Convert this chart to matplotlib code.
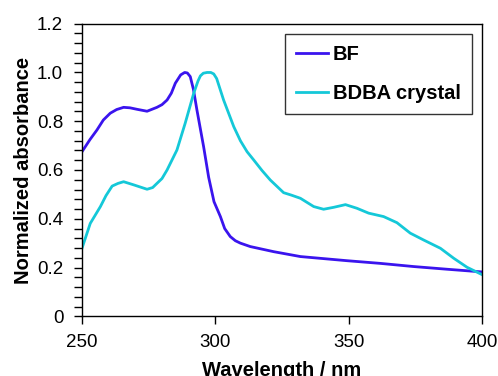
import matplotlib
matplotlib.use("Agg")
import matplotlib.pyplot as plt
from matplotlib.ticker import MultipleLocator

# BF absorbance
bf_nm = [250, 253, 255.6, 258, 260.6, 263, 265.6, 268, 270.6, 274.4, 278.1, 280,
         281.9, 283.5, 285, 287, 288.5, 289.5, 290.6, 291.8, 293.1, 295.6, 297.5,
         299.5, 301.9, 303.5, 305.6, 307.5, 309.4, 313.1, 321.9, 331.9,
         349.4, 361.9, 374.4, 386.9, 400]
bf_abs = [0.675, 0.725, 0.764, 0.805, 0.833, 0.848, 0.857, 0.855, 0.849, 0.841, 0.857, 0.868,
          0.887, 0.915, 0.956, 0.99, 1.0, 0.998, 0.983, 0.93, 0.846, 0.696, 0.57,
          0.47, 0.409, 0.36, 0.327, 0.31, 0.30, 0.286, 0.265, 0.245,
          0.228, 0.217, 0.204, 0.193, 0.182]

# BDBA crystal absorbance
bdba_nm = [250, 253.1, 256.9, 259, 261.3, 263.5, 265.6, 269.4, 274.4, 276.5, 278.1,
           280, 281.9, 285.6, 288.7, 291.9, 293.5, 294.4, 295.5, 296.9, 298.3,
           299.4, 300.5, 303.1, 306.9, 309.4, 311.9, 314.4, 317.5, 320.6,
           325.6, 328.5, 331.9, 336.9, 340.6, 344.4, 348.8, 353.1, 357.5, 363.1,
           368.1, 373.1, 378.1, 384.4, 389.4, 394.4, 400]
bdba_abs = [0.279, 0.381, 0.45, 0.495, 0.534, 0.545, 0.552, 0.539, 0.521, 0.528, 0.545,
            0.565, 0.60, 0.682, 0.792, 0.915, 0.965, 0.986, 0.997, 1.0, 1.0,
            0.994, 0.975, 0.887, 0.778, 0.72, 0.675, 0.641, 0.598, 0.559,
            0.507, 0.497, 0.484, 0.45, 0.439, 0.447, 0.458, 0.443, 0.423, 0.409,
            0.384, 0.341, 0.313, 0.279, 0.238, 0.201, 0.171]

plt.rcParams["font.family"] = ["Liberation Sans", "DejaVu Sans"]

fig = plt.figure(figsize=(4.98, 3.76), dpi=100)
ax = fig.add_axes([82 / 498, 1 - 316.3 / 376, 400 / 498, 292.6 / 376])

ax.plot(bf_nm, bf_abs, color="#3a14ee", linewidth=2, label="BF")
ax.plot(bdba_nm, bdba_abs, color="#14c8d8", linewidth=2, label="BDBA crystal")

ax.set_xlim(250, 400)
ax.set_ylim(0, 1.2)
ax.set_xticks([250, 300, 350, 400])
ax.set_yticks([0, 0.2, 0.4, 0.6, 0.8, 1.0, 1.2])
ax.set_yticklabels(["0", "0.2", "0.4", "0.6", "0.8", "1.0", "1.2"])
ax.yaxis.set_minor_locator(MultipleLocator(0.04))
ax.tick_params(axis="x", which="major", labelsize=13.5, length=5.5, width=1,
               direction="out", pad=7.5)
ax.tick_params(axis="y", which="major", labelsize=13.5, length=5.5, width=1,
               direction="out", pad=8)
ax.tick_params(axis="y", which="minor", length=5.5, width=1, direction="out")
for sp in ax.spines.values():
    sp.set_linewidth(1)

ax.set_xlabel("Wavelength / nm", fontsize=14.5, fontweight="bold", labelpad=7)
ax.set_ylabel("Normalized absorbance", fontsize=14.5, fontweight="bold", labelpad=3)

leg = ax.legend(loc="upper right", bbox_to_anchor=(472 / 498, 1 - 34 / 376),
                bbox_transform=fig.transFigure, borderaxespad=0,
                prop={"weight": "bold", "size": 14.5}, frameon=True, fancybox=False,
                edgecolor="black", handlelength=1.6, handletextpad=0.25,
                labelspacing=1.0, borderpad=0.55)
leg.get_frame().set_linewidth(1)

fig.savefig("out.png", dpi=100)
